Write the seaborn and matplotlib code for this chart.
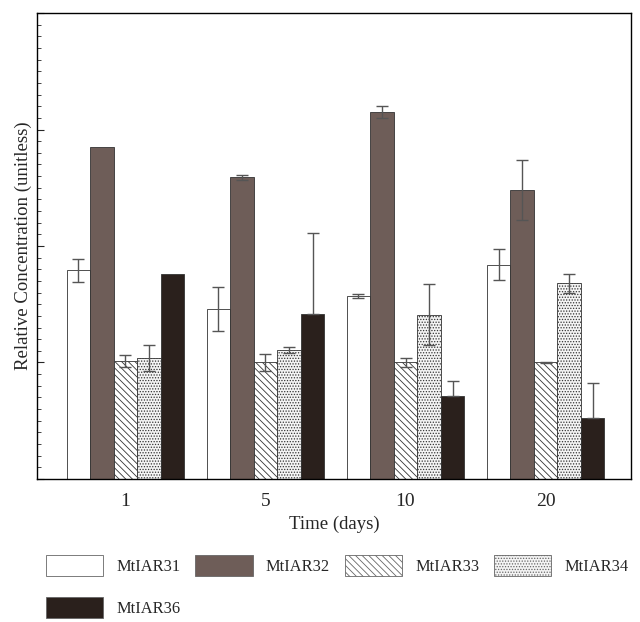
import matplotlib

matplotlib.use("Agg")

import matplotlib.patches as mpatches
import matplotlib.pyplot as plt
import numpy as np
import pandas as pd
import seaborn as sns
from matplotlib.ticker import MultipleLocator, NullFormatter

# values (y axis spans 0..40 with no labels)
times = ["1", "5", "10", "20"]
genes = ["MtIAR31", "MtIAR32", "MtIAR33", "MtIAR34", "MtIAR36"]
mt31 = [17.9, 14.6, 15.7, 18.4]
mt32 = [28.5, 25.9, 31.5, 24.8]
mt33 = [10.1, 10.0, 10.0, 10.0]
mt34 = [10.4, 11.1, 14.1, 16.8]
mt36 = [17.6, 14.2, 7.1, 5.2]
err_up = {
    "MtIAR31": [1.0, 1.9, 0.2, 1.3],
    "MtIAR32": [0.0, 0.2, 0.5, 2.6],
    "MtIAR33": [0.5, 0.7, 0.35, 0.05],
    "MtIAR34": [1.1, 0.25, 2.6, 0.8],
    "MtIAR36": [0.0, 6.9, 1.3, 3.0],
}
err_low = {
    "MtIAR31": [1.0, 1.9, 0.2, 1.3],
    "MtIAR32": [0.0, 0.2, 0.5, 2.6],
    "MtIAR33": [0.5, 0.7, 0.35, 0.05],
    "MtIAR34": [1.1, 0.25, 2.6, 0.8],
    "MtIAR36": [0.0, 0.0, 0.0, 0.0],
}

styles = {
    "MtIAR31": dict(facecolor="white", hatch=None),
    "MtIAR32": dict(facecolor="#6e5d58", hatch=None),
    "MtIAR33": dict(facecolor="white", hatch="\\\\\\\\\\"),
    "MtIAR34": dict(facecolor="#f4f4f4", hatch="......"),
    "MtIAR36": dict(facecolor="#2a201c", hatch=None),
}

sns.set_theme(style="white")
plt.rcParams["font.family"] = ["Liberation Serif", "DejaVu Serif"]
plt.rcParams["hatch.linewidth"] = 0.6
plt.rcParams["hatch.color"] = "#555555"

df = pd.DataFrame({
    "time": times * 5,
    "gene": np.repeat(genes, 4),
    "value": mt31 + mt32 + mt33 + mt34 + mt36,
})

fig = plt.figure(figsize=(6.4, 6.22), dpi=100)
ax = fig.add_axes([0.058, 0.23, 0.928, 0.749])

sns.barplot(data=df, x="time", y="value", hue="gene", order=times,
            hue_order=genes, width=0.84, gap=0, ax=ax, legend=False,
            errorbar=None, saturation=1)

for gene, cont in zip(genes, ax.containers):
    st = styles[gene]
    xs, ys = [], []
    for bar in cont.patches:
        bar.set_facecolor(st["facecolor"])
        bar.set_edgecolor("#333333")
        bar.set_linewidth(0.6)
        if st["hatch"]:
            bar.set_hatch(st["hatch"])
        xs.append(bar.get_x() + bar.get_width() / 2)
        ys.append(bar.get_height())
    lo = np.array(err_low[gene])
    up = np.array(err_up[gene])
    mask = (lo + up) > 0
    ax.errorbar(np.array(xs)[mask], np.array(ys)[mask],
                yerr=[lo[mask], up[mask]], fmt="none", ecolor="#555555",
                elinewidth=1.0, capsize=4, capthick=1.0, zorder=5)

ax.set_xlim(-0.63, 3.61)
ax.set_ylim(0, 40)
ax.yaxis.set_major_locator(MultipleLocator(10))
ax.yaxis.set_minor_locator(MultipleLocator(1))
ax.yaxis.set_major_formatter(NullFormatter())
ax.tick_params(axis="y", which="major", direction="in", length=5, width=0.8,
               left=True, right=False)
ax.tick_params(axis="y", which="minor", direction="in", length=3, width=0.6,
               left=True, right=False)
ax.tick_params(axis="x", length=0, labelsize=14, pad=10)
for sp in ax.spines.values():
    sp.set_color("black")
    sp.set_linewidth(1.0)

ax.set_xlabel("Time (days)", fontsize=13.5, labelpad=4)
ax.set_ylabel("Relative Concentration (unitless)", fontsize=13.5, labelpad=0)

# legend fills column-wise, so order handles to read row-wise like the source
legend_order = ["MtIAR31", "MtIAR36", "MtIAR32", "MtIAR33", "MtIAR34"]
handles = [mpatches.Patch(facecolor=styles[g]["facecolor"], edgecolor="#666666",
                          hatch=styles[g]["hatch"], linewidth=0.6, label=g)
           for g in legend_order]
fig.legend(handles=handles, loc="upper left", bbox_to_anchor=(0.072, 0.108),
           ncol=4, frameon=False, fontsize=11.8, handlelength=3.5,
           handleheight=1.6, handletextpad=0.8, columnspacing=0.9,
           labelspacing=1.3, borderpad=0, borderaxespad=0)

fig.savefig("out.png", dpi=100)
